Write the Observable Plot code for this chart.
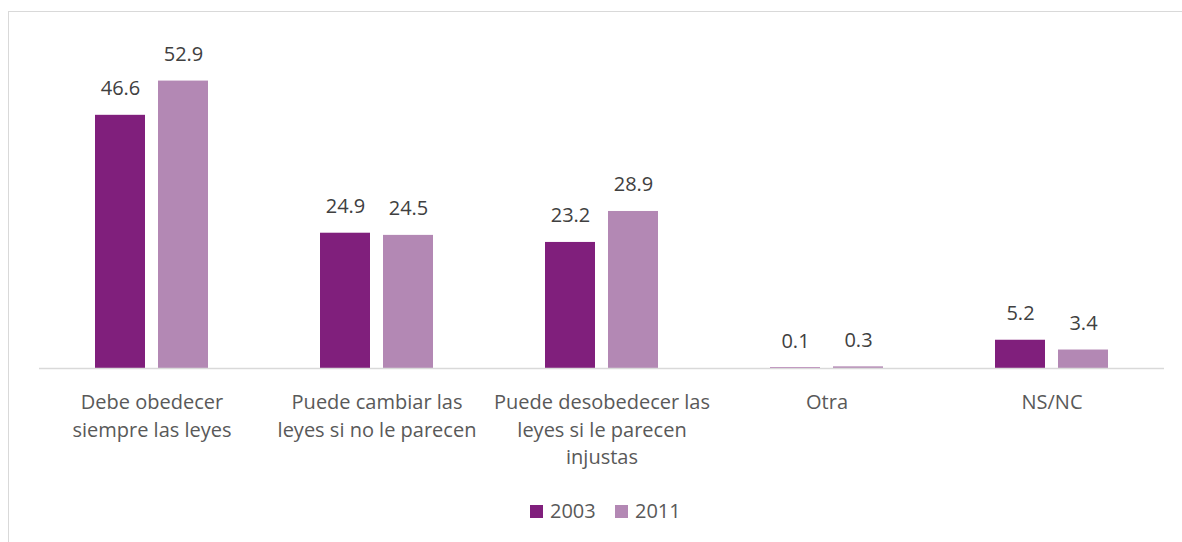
<!DOCTYPE html>
<html>
<head>
<meta charset="utf-8">
<script src="https://cdn.jsdelivr.net/npm/d3@7"></script>
<script src="https://cdn.jsdelivr.net/npm/@observablehq/plot@0.6"></script>
<style>
  html, body { margin: 0; padding: 0; background: #fff; overflow: hidden; }
  body { width: 1182px; height: 542px; position: relative; font-family: "Open Sans", sans-serif; }
  #frame { position: absolute; left: 8px; top: 11px; width: 1200px; height: 600px; border: 1px solid #d9d9d9; box-sizing: border-box; }
  #chart { position: absolute; left: 0; top: 0; }
  #legend { position: absolute; left: 0; top: 500px; width: 1182px; height: 22px; }
  .sw { position: absolute; top: 5px; width: 13px; height: 13px; }
  .lt { position: absolute; top: -2px; font-size: 20px; color: #595959; line-height: 26px; }
</style>
</head>
<body>
<div id="frame"></div>
<div id="chart"></div>
<div id="legend"></div>
<script>
const categories = ["Debe obedecer siempre las leyes", "Puede cambiar las leyes si no le parecen", "Puede desobedecer las leyes si le parecen injustas", "Otra", "NS/NC"];
const tickLabels = ["Debe obedecer\nsiempre las leyes", "Puede cambiar las\nleyes si no le parecen", "Puede desobedecer las\nleyes si le parecen\ninjustas", "Otra", "NS/NC"];
const years = ["2003", "2011"];
const values2003 = [46.6, 24.9, 23.2, 0.1, 5.2];
const values2011 = [52.9, 24.5, 28.9, 0.3, 3.4];
const colors = ["#801F7C", "#B388B4"];

const data = categories.flatMap((c, i) => [
  {category: c, year: years[0], value: values2003[i]},
  {category: c, year: years[1], value: values2011[i]}
]);

const fmt = d => tickLabels[categories.indexOf(d)];

const chart = Plot.plot({
  width: 1182,
  height: 495,
  marginTop: 42,
  marginBottom: 127,
  marginLeft: 38,
  marginRight: 17,
  style: {fontFamily: "Open Sans", background: "transparent"},
  fx: {domain: categories, padding: 0, label: null},
  x: {domain: years, paddingInner: 0.203, paddingOuter: 0.862, axis: null},
  y: {domain: [0, 60], axis: null},
  color: {domain: years, range: colors},
  marks: [
    Plot.barY(data, {fx: "category", x: "year", y: "value", fill: "year"}),
    Plot.ruleY([0], {stroke: "#d9d9d9", strokeWidth: 1.3}),
    Plot.text(data, {fx: "category", x: "year", y: "value", text: d => d.value.toFixed(1), dy: -20, lineAnchor: "bottom", fill: "#404040", fontSize: 20}),
    Plot.axisFx({anchor: "bottom", tickSize: 0, tickPadding: 21, fontSize: 20, lineHeight: 1.375, fill: "#595959", label: null, tickFormat: fmt})
  ]
});
document.getElementById("chart").appendChild(chart);

// legend
const legend = document.getElementById("legend");
const legendPos = [{sw: 530, tx: 550}, {sw: 615, tx: 635}];
years.forEach((y, i) => {
  const s = document.createElement("div");
  s.className = "sw";
  s.style.left = legendPos[i].sw + "px";
  s.style.background = colors[i];
  legend.appendChild(s);
  const t = document.createElement("div");
  t.className = "lt";
  t.style.left = legendPos[i].tx + "px";
  t.textContent = y;
  legend.appendChild(t);
});
</script>
</body>
</html>
